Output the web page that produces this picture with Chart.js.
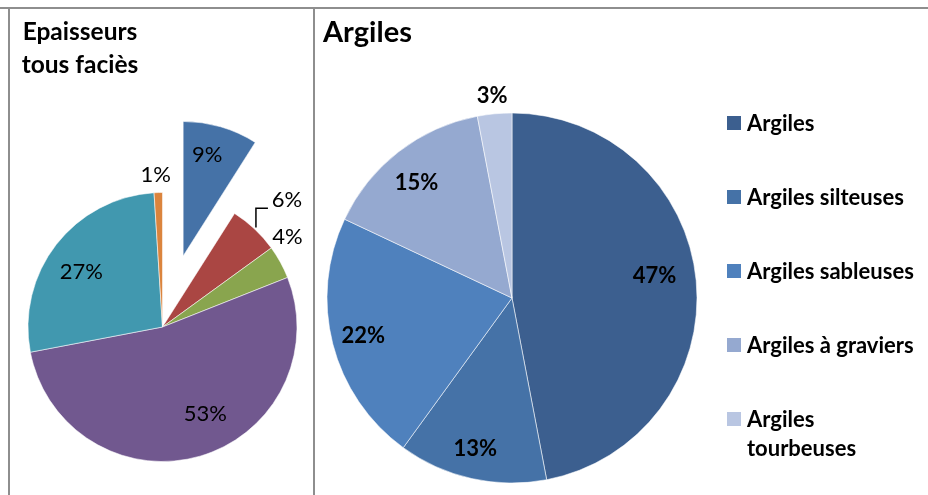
<!DOCTYPE html>
<html lang="fr">
<head>
<meta charset="utf-8">
<title>Epaisseurs tous faciès / Argiles</title>
<script src="https://cdn.jsdelivr.net/npm/chart.js@4/dist/chart.umd.min.js"></script>
<style>
  html, body { margin: 0; padding: 0; background: #fff; }
  body { width: 928px; height: 495px; position: relative; overflow: hidden; font-family: Lato, "Open Sans", sans-serif; }
  .frame { position: absolute; background: #8e8e8e; }
  canvas { position: absolute; top: 0; }
  .title { position: absolute; font-weight: bold; color: #000; }
  #titleLeft { left: 10px; top: 14px; width: 140px; font-size: 24.5px; line-height: 33px; text-align: center; }
  #titleRight { left: 323px; top: 13px; font-size: 29px; line-height: 35px; }
  #legend { position: absolute; left: 727px; top: 108px; margin: 0; padding: 0; list-style: none;
            display: flex; flex-direction: column; gap: 45px; }
  #legend li { display: flex; align-items: flex-start; font-weight: bold; font-size: 22px; line-height: 29px; }
  #legend .box { width: 14px; height: 14px; margin: 7.5px 6px 0 0; flex: none; }
  #legend .txt { max-width: 178px; }
</style>
</head>
<body>
<div class="frame" style="left:0;top:7px;width:928px;height:2px"></div>
<div class="frame" style="left:8px;top:7px;width:2px;height:488px"></div>
<div class="frame" style="left:313px;top:7px;width:2px;height:488px"></div>

<canvas id="pieLeft" width="313" height="495" style="left:0"></canvas>
<canvas id="pieRight" width="613" height="495" style="left:315px"></canvas>

<div class="title" id="titleLeft">Epaisseurs<br>tous faciès</div>
<div class="title" id="titleRight">Argiles</div>
<ul id="legend"></ul>

<script>
// left pie - all facies (share of thickness, %)
const faciesLabels = ["Faciès 1", "Faciès 2", "Faciès 3", "Faciès 4", "Faciès 5", "Faciès 6"];
const faciesValues = [9, 6, 4, 53, 27, 1];
const faciesColors = ["#4572A7", "#AA4643", "#89A54E", "#71588F", "#4198AF", "#DB843D"];

// right pie - clays
const argilesLabels = ["Argiles", "Argiles silteuses", "Argiles sableuses", "Argiles à graviers", "Argiles tourbeuses"];
const argilesValues = [47, 13, 22, 15, 3];
const argilesColors = ["#3C5F8F", "#4572A7", "#4F81BD", "#95A9D0", "#B9C6E2"];

// label placement (fraction of radius, angle nudge in degrees)
const faciesLabelRadius = [0.77, 1.32, 1.145, 0.72, 0.73, 1.13];
const faciesLabelShift = [-2.8, 1.3, -7, -10, -3.6, -0.8];
const faciesLeader = [false, true, false, false, false, false];
const faciesExplode = [74, 0, 0, 0, 0, 0];

const argilesLabelRadius = [0.78, 0.84, 0.83, 0.81, 1.10];
const argilesLabelShift = [-3.4, 1.1, 0, -1.8, -0.2];

const DEG = Math.PI / 180;

// pulls single slices out of the pie (same radius, just shifted)
function explodePlugin(distances) {
  return {
    id: "explode",
    afterUpdate(chart) {
      chart.getDatasetMeta(0).data.forEach((arc, i) => {
        const d = distances[i] || 0;
        if (!d) return;
        const baseDraw = Object.getPrototypeOf(arc).draw;
        arc.draw = function (ctx, area) {
          const mid = (this.startAngle + this.endAngle) / 2;
          ctx.save();
          ctx.translate(Math.cos(mid) * d, Math.sin(mid) * d);
          baseDraw.call(this, ctx, area);
          ctx.restore();
        };
      });
    }
  };
}

// percentage labels, Excel-like
function labelPlugin(cfg) {
  return {
    id: "sliceLabels",
    afterDatasetsDraw(chart) {
      const ctx = chart.ctx;
      const arcs = chart.getDatasetMeta(0).data;
      const values = chart.data.datasets[0].data;
      const total = values.reduce((a, b) => a + b, 0);
      ctx.save();
      ctx.font = cfg.font;
      ctx.fillStyle = "#000";
      ctx.strokeStyle = "#000";
      ctx.lineWidth = 1.5;
      ctx.textAlign = "center";
      ctx.textBaseline = "middle";
      arcs.forEach((arc, i) => {
        const mid = (arc.startAngle + arc.endAngle) / 2;
        const push = (cfg.explode && cfg.explode[i]) || 0;
        const a = mid + cfg.shift[i] * DEG;
        const r = arc.outerRadius * cfg.radius[i];
        const x = arc.x + Math.cos(mid) * push + Math.cos(a) * r;
        const y = arc.y + Math.sin(mid) * push + Math.sin(a) * r;
        ctx.fillText(Math.round(values[i] / total * 100) + "%", x, y);
        if (cfg.leader && cfg.leader[i]) {
          const sx = arc.x + Math.cos(mid) * (arc.outerRadius + 2);
          const sy = arc.y + Math.sin(mid) * (arc.outerRadius + 2);
          ctx.beginPath();
          ctx.moveTo(sx, sy);
          ctx.lineTo(sx, y + 8);
          ctx.lineTo(x - 19, y + 8);
          ctx.stroke();
        }
      });
      ctx.restore();
    }
  };
}

function pieOptions(radius, padding) {
  return {
    responsive: false,
    animation: false,
    radius: radius,
    layout: { padding: padding },
    plugins: { legend: { display: false }, tooltip: { enabled: false } },
    events: []
  };
}

new Chart(document.getElementById("pieLeft"), {
  type: "pie",
  data: {
    labels: faciesLabels,
    datasets: [{
      data: faciesValues,
      backgroundColor: faciesColors,
      borderColor: "rgba(255,255,255,0.55)",
      borderWidth: 1
    }]
  },
  options: pieOptions(134.5, { left: 12, right: 0, top: 159, bottom: 0 }),
  plugins: [
    explodePlugin(faciesExplode),
    labelPlugin({ font: "22px Lato", radius: faciesLabelRadius, shift: faciesLabelShift,
                  leader: faciesLeader, explode: faciesExplode })
  ]
});

const rightChart = new Chart(document.getElementById("pieRight"), {
  type: "pie",
  data: {
    labels: argilesLabels,
    datasets: [{
      data: argilesValues,
      backgroundColor: argilesColors,
      borderColor: "rgba(255,255,255,0.55)",
      borderWidth: 1
    }]
  },
  options: pieOptions(185, { left: 0, right: 219, top: 101, bottom: 0 }),
  plugins: [
    labelPlugin({ font: "bold 22px Lato", radius: argilesLabelRadius, shift: argilesLabelShift })
  ]
});

// legend for the clay pie
const legend = document.getElementById("legend");
rightChart.data.labels.forEach((label, i) => {
  const li = document.createElement("li");
  li.innerHTML = `<span class="box" style="background:${argilesColors[i]}"></span><span class="txt">${label}</span>`;
  legend.appendChild(li);
});
</script>
</body>
</html>
